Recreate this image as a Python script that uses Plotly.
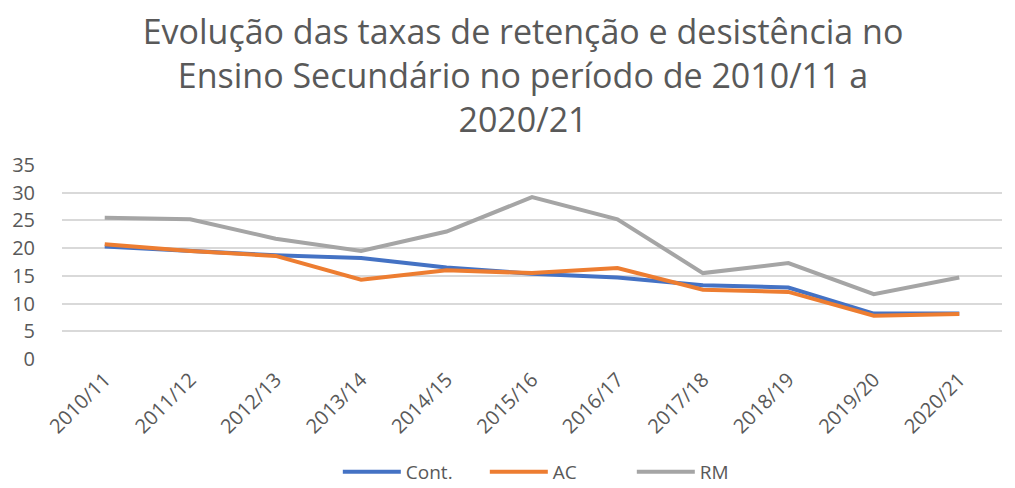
import plotly.graph_objects as go

categories = ["2010/11", "2011/12", "2012/13", "2013/14", "2014/15", "2015/16",
              "2016/17", "2017/18", "2018/19", "2019/20", "2020/21"]
cont = [20.3, 19.5, 18.7, 18.2, 16.5, 15.4, 14.7, 13.3, 12.9, 8.2, 8.2]
ac = [20.7, 19.5, 18.6, 14.3, 16.0, 15.5, 16.4, 12.5, 12.1, 7.8, 8.1]
rm = [25.5, 25.2, 21.7, 19.5, 23.0, 29.2, 25.2, 15.5, 17.3, 11.7, 14.7]
y_ticks = [0, 5, 10, 15, 20, 25, 30, 35]

series = [("Cont.", cont, "#4472C4"), ("AC", ac, "#ED7D31"), ("RM", rm, "#A5A5A5")]

fig = go.Figure()
for name, vals, color in series:
    fig.add_trace(go.Scatter(x=categories, y=vals, name=name, mode="lines",
                             line=dict(color=color, width=4)))

W, H = 1007, 480
font_family = "Open Sans, Noto Sans, DejaVu Sans, sans-serif"
fig.update_layout(
    width=W, height=H,
    paper_bgcolor="white", plot_bgcolor="white",
    margin=dict(l=54, r=13, t=157, b=129),
    font=dict(family=font_family, color="#595959", size=18),
    title=dict(text="Evolução das taxas de retenção e desistência no<br>Ensino Secundário no período de 2010/11 a<br>2020/21",
               x=515 / W, xanchor="center", y=1 - 36 / H, yanchor="top", yref="container",
               font=dict(size=34, color="#595959", family=font_family)),
    showlegend=True,
    legend=dict(orientation="h", x=0.528, xanchor="center", xref="paper",
                y=1 - 464 / H, yanchor="middle", yref="container",
                font=dict(size=19, color="#595959"), itemwidth=58, entrywidth=74,
                traceorder="normal", bgcolor="rgba(0,0,0,0)"),
    xaxis=dict(type="category", range=[-0.5, 10.5], tickangle=-45, showgrid=False,
               showline=False, ticks="", automargin=False, ticklabelstandoff=4,
               tickfont=dict(size=20, color="#595959")),
    yaxis=dict(range=[0, 35], tickvals=y_ticks, showgrid=True, gridcolor="#D9D9D9",
               gridwidth=2, zeroline=False, showline=False, ticks="", automargin=False,
               ticklabelstandoff=26,
               tickfont=dict(size=20, color="#595959")),
)

fig.write_html("out.html")
